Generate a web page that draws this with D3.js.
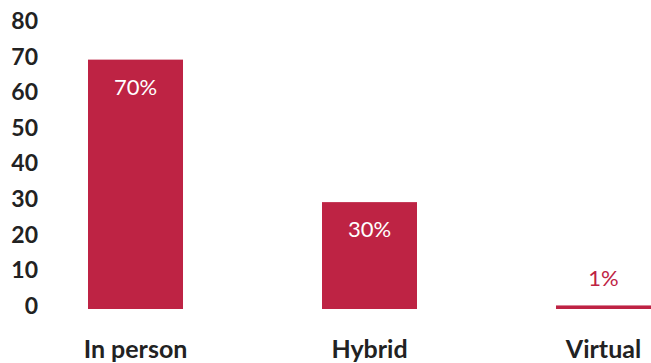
<!DOCTYPE html>
<html><head><meta charset="utf-8">
<script src="https://cdn.jsdelivr.net/npm/d3@7"></script>
<style>body{margin:0;background:#fff}svg{display:block}</style>
</head><body>
<svg id="c" width="651" height="363"></svg>
<script>
const categories = ["In person", "Hybrid", "Virtual"];
const values = [70, 30, 1];
const valueLabels = ["70%", "30%", "1%"];
const yTicks = [0, 10, 20, 30, 40, 50, 60, 70, 80];

const W = 651, H = 363;
const color = "#BE2344";
const svg = d3.select("#c");
const font = "Lato, 'Open Sans', sans-serif";

const y = d3.scaleLinear().domain([0, 80]).range([309, 24]);
const x = d3.scaleBand().domain(categories).range([88, 651]).paddingInner(0.594).paddingOuter(0);

// y axis labels
const yAxis = d3.axisLeft(y).tickValues(yTicks).tickSize(0).tickPadding(0);
const gy = svg.append("g").attr("transform", "translate(38,-3)").call(yAxis);
gy.select(".domain").remove();
gy.selectAll("text").attr("font-family", font).attr("font-weight", "bold")
  .attr("font-size", 23).attr("fill", "#222");

// bars
svg.selectAll("rect.bar").data(values).join("rect").attr("class", "bar")
  .attr("x", (d, i) => x(categories[i]))
  .attr("y", d => y(d))
  .attr("width", x.bandwidth())
  .attr("height", d => y(0) - y(d))
  .attr("fill", color);

// value labels
svg.selectAll("text.val").data(values).join("text").attr("class", "val")
  .attr("x", (d, i) => x(categories[i]) + x.bandwidth() / 2)
  .attr("y", d => d > 10 ? y(d) + 35 : y(d) - 19)
  .attr("text-anchor", "middle")
  .attr("font-family", font).attr("font-size", 22)
  .attr("fill", d => d > 10 ? "#fff" : color)
  .text((d, i) => valueLabels[i]);

// category labels
const xAxis = d3.axisBottom(x).tickSize(0).tickPadding(0);
const gx = svg.append("g").attr("transform", "translate(0,340)").call(xAxis);
gx.select(".domain").remove();
gx.selectAll("text").attr("font-family", font).attr("font-weight", "bold")
  .attr("font-size", 25).attr("fill", "#222");
</script>
</body></html>
